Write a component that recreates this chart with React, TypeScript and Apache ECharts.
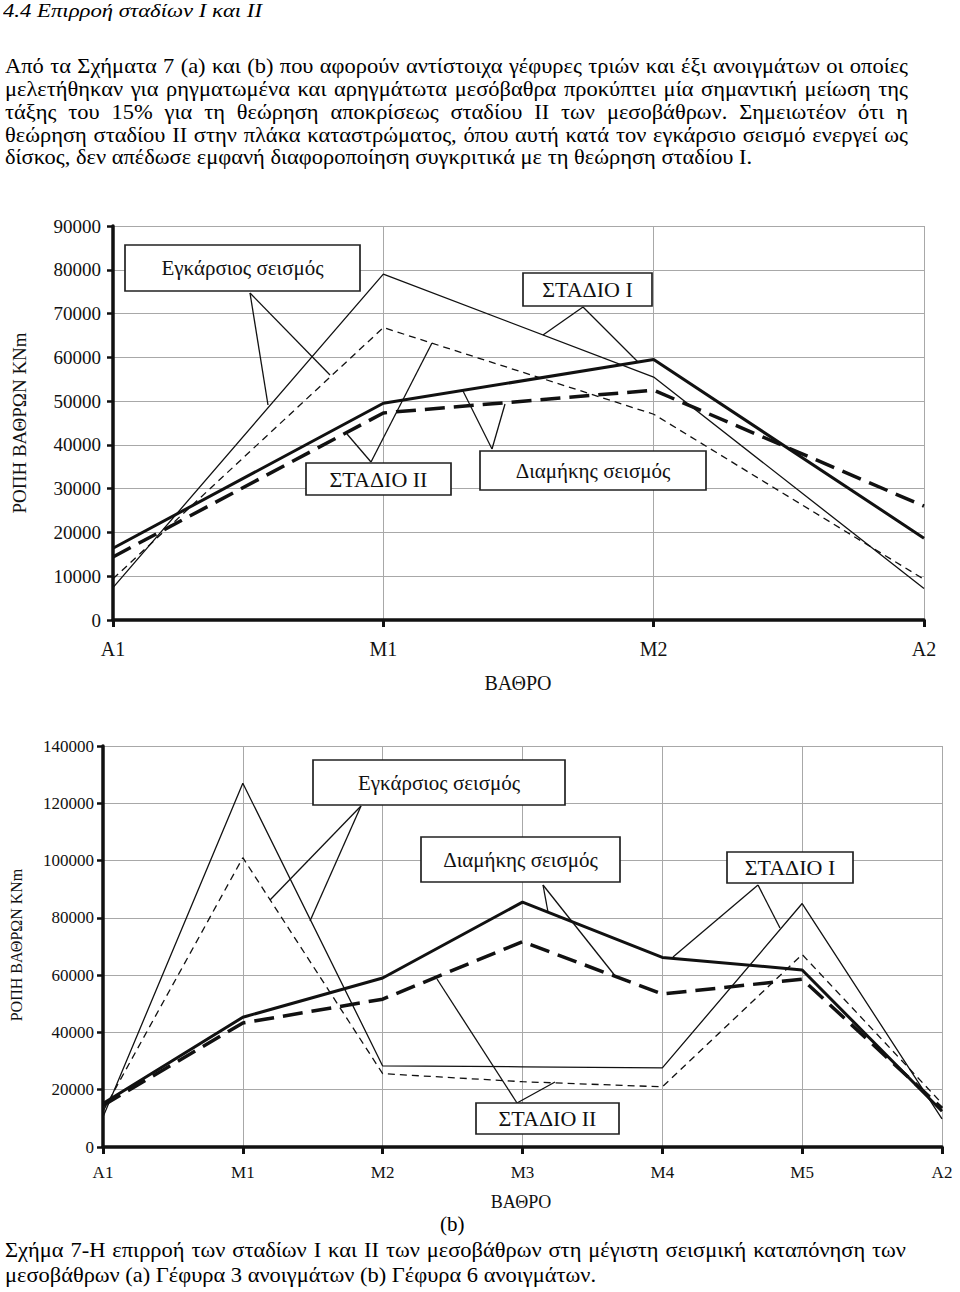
import React, { useEffect, useRef } from "react";
import * as echarts from "echarts";

// ---------- data ----------
const catsA = ["A1", "M1", "M2", "A2"];
const transStage1A = [7400, 79000, 55500, 7200];
const transStage2A = [9400, 66800, 47000, 9300];
const longStage1A = [16400, 49500, 59500, 18700];
const longStage2A = [14400, 47300, 52500, 26000];

const catsB = ["A1", "M1", "M2", "M3", "M4", "M5", "A2"];
const transStage1B = [10500, 127000, 28300, 28000, 27600, 85000, 9800];
const transStage2B = [12500, 101000, 25600, 22800, 21000, 67200, 15200];
const longStage1B = [15200, 45300, 59000, 85500, 66200, 61800, 12500];
const longStage2B = [14500, 43300, 51600, 71700, 53400, 58600, 13500];

const yTicksA = { min: 0, max: 90000, interval: 10000 };
const yTicksB = { min: 0, max: 140000, interval: 20000 };

const headerText = "4.4 Επιρροή σταδίων Ι και ΙΙ";
const paraLines = [
  "Από τα Σχήματα 7 (a) και (b) που αφορούν αντίστοιχα γέφυρες τριών και έξι ανοιγμάτων οι οποίες",
  "μελετήθηκαν για ρηγματωμένα και αρηγμάτωτα μεσόβαθρα προκύπτει μία σημαντική μείωση της",
  "τάξης του 15% για τη θεώρηση αποκρίσεως σταδίου ΙΙ των μεσοβάθρων. Σημειωτέον ότι η",
  "θεώρηση σταδίου ΙΙ στην πλάκα καταστρώματος, όπου αυτή κατά τον εγκάρσιο σεισμό ενεργεί ως",
  "δίσκος, δεν απέδωσε εμφανή διαφοροποίηση συγκριτικά με τη θεώρηση σταδίου Ι.",
];
const captionLines = [
  "Σχήμα 7-Η επιρροή των σταδίων Ι και ΙΙ των μεσοβάθρων στη μέγιστη σεισμική καταπόνηση των",
  "μεσοβάθρων (a) Γέφυρα 3 ανοιγμάτων (b) Γέφυρα 6 ανοιγμάτων.",
];
const subLabel = "(b)";
const yName = "ΡΟΠΗ ΒΑΘΡΩΝ KNm";
const xName = "ΒΑΘΡΟ";
const labTrans = "Εγκάρσιος σεισμός";
const labLong = "Διαμήκης σεισμός";
const labS1 = "ΣΤΑΔΙΟ I";
const labS2 = "ΣΤΑΔΙΟ II";

// ---------- layout ----------
const FONT = "'Liberation Serif', 'Times New Roman', serif";

let _canvas: any = null;
function measure(text: string, font: string) {
  if (!_canvas) _canvas = document.createElement("canvas");
  const ctx = _canvas.getContext("2d");
  ctx.font = font;
  return ctx.measureText(text).width;
}

function TLine(props: any) {
  const { text, left, baseline, size, scale, target, italic } = props;
  const font = `${italic ? "italic " : ""}${size}px ${FONT}`;
  let ws = 0;
  if (target) {
    const w = measure(text, font);
    const n = text.split(" ").length - 1;
    ws = (target / scale - w) / n;
  }
  return (
    <div
      style={{
        position: "absolute",
        left,
        top: baseline - 0.8375 * size,
        fontFamily: FONT,
        fontSize: size,
        fontStyle: italic ? "italic" : "normal",
        lineHeight: size + "px",
        whiteSpace: "nowrap",
        wordSpacing: ws,
        transform: `scaleX(${scale})`,
        transformOrigin: "0 0",
        color: "#000",
      }}
    >
      {text}
    </div>
  );
}

type Note = { box: number[]; text: string; size: number; apex: number[]; ends: number[][] };

const notesA: Note[] = [
  { box: [125, 245, 235, 46], text: labTrans, size: 21, apex: [250, 293], ends: [[268, 405], [330, 375]] },
  { box: [523, 273, 129, 33], text: labS1, size: 22, apex: [583, 307], ends: [[543, 335], [638, 362]] },
  { box: [306, 463, 145, 32], text: labS2, size: 22, apex: [371, 462], ends: [[347, 434], [432, 343]] },
  { box: [480, 451, 226, 39], text: labLong, size: 21, apex: [492, 449], ends: [[463, 391], [505, 404]] },
];
const notesB: Note[] = [
  { box: [313, 760, 252, 45], text: labTrans, size: 21, apex: [361, 806], ends: [[270, 900], [310, 921]] },
  { box: [421, 837, 199, 45], text: labLong, size: 21, apex: [543, 885], ends: [[548, 912], [616, 977]] },
  { box: [727, 852, 126, 31], text: labS1, size: 22, apex: [758, 885], ends: [[673, 957], [780, 928]] },
  { box: [476, 1103, 143, 31], text: labS2, size: 22, apex: [517, 1103], ends: [[437, 979], [555, 1082]] },
];

function noteGraphics(notes: Note[]) {
  const out: any[] = [];
  notes.forEach((n) => {
    n.ends.forEach((e) => {
      out.push({
        type: "polyline",
        z: 100,
        shape: { points: [n.apex, e] },
        style: { stroke: "#111", lineWidth: 1.3, fill: null },
      });
    });
    out.push({
      type: "rect",
      z: 101,
      shape: { x: n.box[0], y: n.box[1], width: n.box[2], height: n.box[3] },
      style: { fill: "#fff", stroke: "#222", lineWidth: 1.7 },
    });
    out.push({
      type: "text",
      z: 102,
      x: n.box[0] + n.box[2] / 2,
      y: n.box[1] + n.box[3] / 2,
      style: {
        text: n.text,
        fontFamily: FONT,
        fontSize: n.size,
        fill: "#111",
        align: "center",
        verticalAlign: "middle",
      },
    });
  });
  return out;
}

const INK = "#111";
const GRIDC = "#a8a8a8";

function xAxisCfg(cats: string[], grid: number, fs: number, margin: number) {
  return {
    type: "category",
    gridIndex: grid,
    data: cats,
    boundaryGap: false,
    axisLine: { show: true, lineStyle: { color: INK, width: 3.5 } },
    axisTick: { show: true, length: 7, lineStyle: { color: INK, width: 3 } },
    axisLabel: { margin, fontSize: fs, fontFamily: FONT, color: INK },
    splitLine: { show: true, lineStyle: { color: GRIDC, width: 1 } },
  };
}
function yAxisCfg(t: any, grid: number, fs: number, margin: number) {
  return {
    type: "value",
    gridIndex: grid,
    min: t.min,
    max: t.max,
    interval: t.interval,
    axisLine: { show: true, lineStyle: { color: INK, width: 3.5 } },
    axisTick: { show: true, length: 6, lineStyle: { color: INK, width: 2.5 } },
    axisLabel: { margin, fontSize: fs, fontFamily: FONT, color: INK, formatter: (v: number) => String(v) },
    splitLine: { show: true, lineStyle: { color: GRIDC, width: 1 } },
  };
}

const styles = {
  thin: { color: INK, width: 1.3, type: "solid" },
  thinDash: { color: INK, width: 1.3, type: [7, 5] },
  thick: { color: INK, width: 3, type: "solid" },
  thickDash: { color: INK, width: 3.5, type: [20, 9] },
};

function lineSeries(data: number[], idx: number, st: any) {
  return {
    type: "line",
    xAxisIndex: idx,
    yAxisIndex: idx,
    data,
    symbol: "none",
    showSymbol: false,
    lineStyle: st,
    silent: true,
  };
}

export default function App() {
  const ref = useRef<HTMLDivElement>(null);

  useEffect(() => {
    if (!ref.current) return;
    const chart = echarts.init(ref.current, null, { renderer: "svg" });
    chart.setOption({
      animation: false,
      backgroundColor: "#fff",
      grid: [
        { left: 113, right: 36, top: 226, bottom: 672, containLabel: false },
        { left: 103, right: 18, top: 746, bottom: 145, containLabel: false },
      ],
      xAxis: [xAxisCfg(catsA, 0, 20, 19), xAxisCfg(catsB, 1, 17, 17)],
      yAxis: [yAxisCfg(yTicksA, 0, 19, 12), yAxisCfg(yTicksB, 1, 17, 9)],
      series: [
        lineSeries(transStage1A, 0, styles.thin),
        lineSeries(transStage2A, 0, styles.thinDash),
        lineSeries(longStage1A, 0, styles.thick),
        lineSeries(longStage2A, 0, styles.thickDash),
        lineSeries(transStage1B, 1, styles.thin),
        lineSeries(transStage2B, 1, styles.thinDash),
        lineSeries(longStage1B, 1, styles.thick),
        lineSeries(longStage2B, 1, styles.thickDash),
      ],
      graphic: [
        ...noteGraphics(notesA),
        ...noteGraphics(notesB),
        {
          type: "text", x: 19, y: 423, rotation: Math.PI / 2,
          style: { text: yName, fontFamily: FONT, fontSize: 19, fill: INK, align: "center", verticalAlign: "middle" },
        },
        {
          type: "text", x: 518, y: 683,
          style: { text: xName, fontFamily: FONT, fontSize: 20, fill: INK, align: "center", verticalAlign: "middle" },
        },
        {
          type: "text", x: 16, y: 945, rotation: Math.PI / 2,
          style: { text: yName, fontFamily: FONT, fontSize: 16, fill: INK, align: "center", verticalAlign: "middle" },
        },
        {
          type: "text", x: 521, y: 1202,
          style: { text: xName, fontFamily: FONT, fontSize: 18, fill: INK, align: "center", verticalAlign: "middle" },
        },
      ],
    });
    return () => chart.dispose();
  }, []);

  const pSize = 21;
  const pFont = `${pSize}px ${FONT}`;
  const pScale = Math.min(747 / measure(paraLines[4], pFont), 903 / measure(paraLines[0], pFont));
  const hSize = 18;
  const hScale = 259 / measure(headerText, `italic ${hSize}px ${FONT}`);
  const cScale = Math.min(591 / measure(captionLines[1], pFont), 901 / measure(captionLines[0], pFont));
  const pBase = [74, 96.7, 119.4, 142.1, 164.8];

  return (
    <div>
      <div ref={ref} style={{ position: "absolute", left: 0, top: 0, width: 960, height: 1292 }} />
      <TLine text={headerText} left={3} baseline={17} size={hSize} scale={hScale} italic />
      {paraLines.map((t, i) => (
        <TLine key={i} text={t} left={5} baseline={pBase[i]} size={pSize} scale={pScale} target={i < 4 ? 903 : 0} />
      ))}
      <TLine text={subLabel} left={440} baseline={1232} size={pSize} scale={1} />
      <TLine text={captionLines[0]} left={5} baseline={1258} size={pSize} scale={cScale} target={901} />
      <TLine text={captionLines[1]} left={5} baseline={1283} size={pSize} scale={cScale} />
    </div>
  );
}
